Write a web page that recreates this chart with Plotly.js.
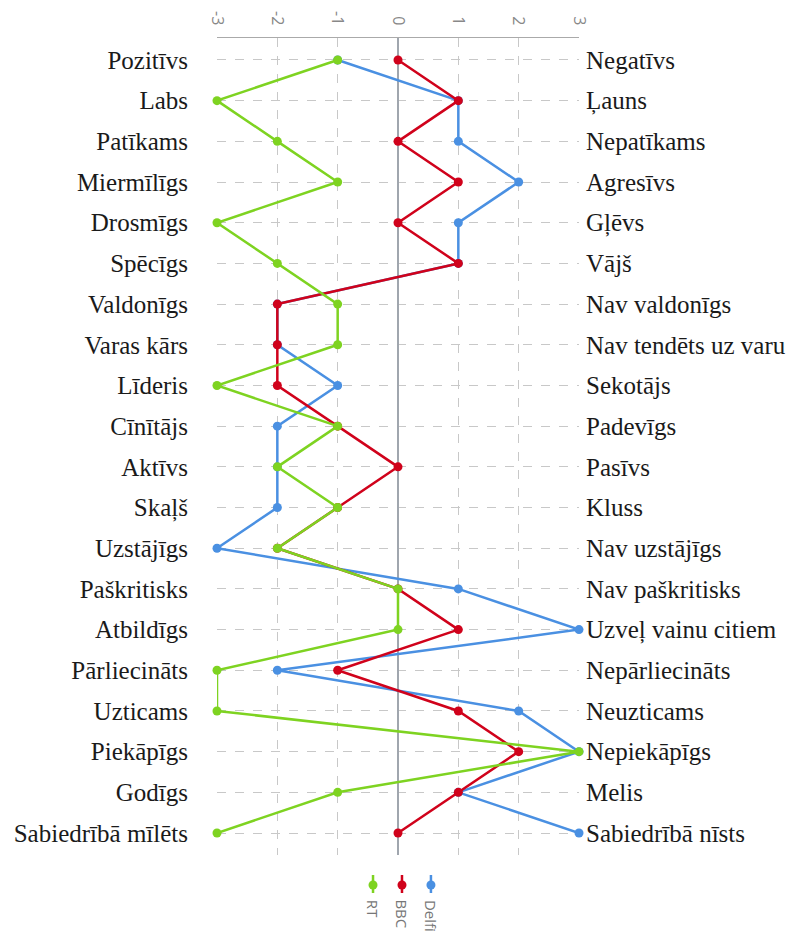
<!DOCTYPE html>
<html>
<head>
<meta charset="utf-8">
<script src="https://cdn.plot.ly/plotly-3.0.1.min.js"></script>
<style>html,body{margin:0;padding:0;background:#fff;}#chart{width:796px;height:933px;}</style>
</head>
<body>
<div id="chart"></div>
<script>
const leftLabels = ["Pozitīvs","Labs","Patīkams","Miermīlīgs","Drosmīgs","Spēcīgs","Valdonīgs","Varas kārs","Līderis","Cīnītājs","Aktīvs","Skaļš","Uzstājīgs","Paškritisks","Atbildīgs","Pārliecināts","Uzticams","Piekāpīgs","Godīgs","Sabiedrībā mīlēts"];
const rightLabels = ["Negatīvs","Ļauns","Nepatīkams","Agresīvs","Gļēvs","Vājš","Nav valdonīgs","Nav tendēts uz varu","Sekotājs","Padevīgs","Pasīvs","Kluss","Nav uzstājīgs","Nav paškritisks","Uzveļ vainu citiem","Nepārliecināts","Neuzticams","Nepiekāpīgs","Melis","Sabiedrībā nīsts"];
const rtValues    = [-1,-3,-2,-1,-3,-2,-1,-1,-3,-1,-2,-1,-2, 0, 0,-3,-3, 3,-1,-3];
const bbcValues   = [ 0, 1, 0, 1, 0, 1,-2,-2,-2,-1, 0,-1,-2, 0, 1,-1, 1, 2, 1, 0];
const delfiValues = [-1, 1, 1, 2, 1, 1,-2,-2,-1,-2,-2,-2,-3, 1, 3,-2, 2, 3, 1, 3];
const seriesNames = ["RT","BBC","Delfi"];
const seriesColors = ["#7ed321","#d0021b","#4a90e2"];
const xTicks = [-3,-2,-1,0,1,2,3];

const mk = (name, vals, color) => ({
  type: 'scatter', mode: 'lines+markers', name: name,
  x: vals, y: leftLabels, yaxis: 'y', cliponaxis: false,
  line: {color: color, width: 2.5},
  marker: {color: color, size: 9},
  showlegend: false, hoverinfo: 'x+y+name'
});
const traces = [
  mk(seriesNames[2], delfiValues, seriesColors[2]),
  mk(seriesNames[1], bbcValues, seriesColors[1]),
  mk(seriesNames[0], rtValues, seriesColors[0]),
  {type:'scatter', mode:'markers', x:[0], y:[leftLabels[0]], yaxis:'y2', marker:{opacity:0}, showlegend:false, hoverinfo:'skip'}
];

const yr = [leftLabels.length - 1 + 0.54, -0.54];
const labelFont = {family: '"Liberation Serif", "DejaVu Serif", serif', size: 25, color: '#1a1a1a'};

// legend drawn manually (rotated labels)
const legX = [0.431, 0.511, 0.591];
const order = [0,1,2];
const shapes = [];
const annotations = [];
order.forEach((i, k) => {
  const px = legX[k];
  shapes.push({type:'line', xref:'paper', yref:'paper', x0:px, x1:px, y0:-0.0245, y1:-0.0465, line:{color:seriesColors[i], width:2.5}});
  shapes.push({type:'circle', xref:'paper', yref:'paper', xsizemode:'pixel', ysizemode:'pixel', xanchor:px, yanchor:-0.0367, x0:-4.5, x1:4.5, y0:-4.5, y1:4.5, fillcolor:seriesColors[i], line:{width:0}});
  annotations.push({xref:'paper', yref:'paper', x:px, y:-0.0525, xanchor:'center', yanchor:'top', text:seriesNames[i], textangle:90, showarrow:false, font:{family:'"Open Sans", "Liberation Sans", sans-serif', size:15, color:'#777'}});
});

const layout = {
  width: 796, height: 933,
  margin: {l: 217, r: 217, t: 38, b: 78},
  paper_bgcolor: '#fff', plot_bgcolor: '#fff',
  showlegend: false,
  xaxis: {
    side: 'top', range: [-3, 3], tickvals: xTicks, ticktext: xTicks.map(String),
    tickangle: 90, tickfont: {family: '"Open Sans", "Liberation Sans", sans-serif', size: 16, color: '#888'},
    ticklabelstandoff: 6,
    showline: true, linecolor: '#aaa', linewidth: 1, mirror: false,
    showgrid: true, gridcolor: '#c8c8c8', griddash: 'dash', gridwidth: 1,
    zeroline: true, zerolinecolor: '#a0a6ae', zerolinewidth: 1.5,
    ticks: '', fixedrange: true
  },
  yaxis: {
    type: 'category', categoryarray: leftLabels, categoryorder: 'array', range: yr,
    tickfont: labelFont, ticks: '', ticklabelstandoff: 28,
    showgrid: true, gridcolor: '#c8c8c8', griddash: 'dash', gridwidth: 1,
    showline: false, zeroline: false
  },
  yaxis2: {
    type: 'category', overlaying: 'y', side: 'right', categoryarray: leftLabels, categoryorder: 'array', range: yr,
    tickmode: 'array', tickvals: leftLabels, ticktext: rightLabels,
    tickfont: labelFont, ticks: '', ticklabelstandoff: 6,
    showgrid: false, showline: false, zeroline: false
  },
  shapes: shapes,
  annotations: annotations
};
Plotly.newPlot('chart', traces, layout, {displayModeBar: false, staticPlot: true});
</script>
</body>
</html>
